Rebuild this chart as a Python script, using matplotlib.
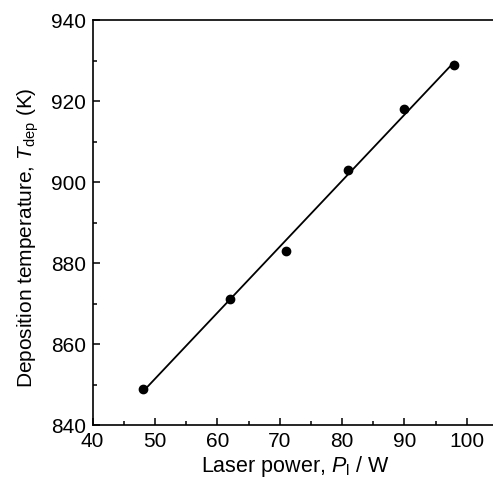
import numpy as np
import matplotlib
matplotlib.use("Agg")
import matplotlib.pyplot as plt
from matplotlib.ticker import MultipleLocator

laser_power = [48, 62, 71, 81, 90, 98]
dep_temp = [849, 871, 883, 903, 918, 929]
x_ticks = [40, 50, 60, 70, 80, 90, 100]
y_ticks = [840, 860, 880, 900, 920, 940]

plt.rcParams['font.family'] = ['Liberation Sans', 'DejaVu Sans']
plt.rcParams['mathtext.fontset'] = 'custom'
plt.rcParams['mathtext.rm'] = 'Liberation Sans'
plt.rcParams['mathtext.it'] = 'Liberation Sans:italic'

fig = plt.figure(figsize=(4.93, 4.88), dpi=100)
ax = fig.add_axes([0.188, 0.129, 0.822, 0.830])

coef = np.polyfit(laser_power, dep_temp, 1)
xf = np.array([min(laser_power), max(laser_power)])
ax.plot(xf, np.polyval(coef, xf), color='black', lw=1.3)
ax.plot(laser_power, dep_temp, 'o', color='black', markersize=6)

ax.set_xlim(40, 105)
ax.set_ylim(840, 940)
ax.set_xticks(x_ticks)
ax.set_yticks(y_ticks)
ax.xaxis.set_minor_locator(MultipleLocator(5))
ax.yaxis.set_minor_locator(MultipleLocator(10))
ax.tick_params(which='both', direction='in', labelsize=15, width=1.1)
ax.tick_params(which='major', length=5)
ax.tick_params(which='minor', length=3)
ax.tick_params(axis='x', pad=5)
ax.tick_params(axis='y', pad=5)
for s in ax.spines.values():
    s.set_linewidth(1.2)

ax.set_xlabel(r'Laser power, $P_{\mathrm{l}}$ / W', fontsize=15.5, labelpad=2)
ax.set_ylabel(r'Deposition temperature, $T_{\mathrm{dep}}$ (K)', fontsize=15, va='center')
ax.yaxis.set_label_coords(-0.16, 0.462)

fig.savefig('out.png', dpi=100)
